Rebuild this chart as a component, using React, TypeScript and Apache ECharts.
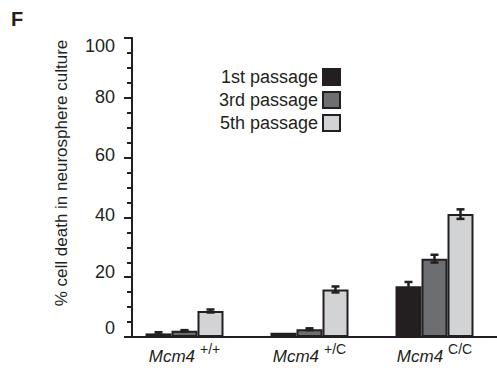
import React, { useEffect, useRef } from "react";
import * as echarts from "echarts";

const categories = ["Mcm4|+/+", "Mcm4|+/C", "Mcm4|C/C"];
const seriesNames = ["1st passage", "3rd passage", "5th passage"];
const firstPassage = [1.2, 1.4, 17.0];
const thirdPassage = [2.1, 2.6, 26.2];
const fifthPassage = [8.7, 15.9, 41.1];
const firstErr = [0.4, 0, 1.4];
const thirdErr = [0.2, 0.3, 1.3];
const fifthErr = [0.5, 1.0, 1.6];
const yTicks = [0, 20, 40, 60, 80, 100];

const FONT = "'Liberation Sans', Arial, Helvetica, sans-serif";
const INK = "#231f20";
const colors = ["#231f20", "#6d6e71", "#d1d3d4"];
const BAR_W = 26;
// vertical nudges of the tick labels as printed in the original figure (px, + = down)
const labelShift: Record<number, number> = { 0: -9, 20: -5, 40: -2, 60: -3, 80: -1, 100: 8 };

export default function App() {
  const ref = useRef<HTMLDivElement>(null);
  useEffect(() => {
    if (!ref.current) return;
    const chart = echarts.init(ref.current, undefined, { renderer: "svg" });
    const values = [firstPassage, thirdPassage, fifthPassage];
    const errs = [firstErr, thirdErr, fifthErr];
    const errData: number[][] = [];
    values.forEach((vals, s) =>
      vals.forEach((v, c) => {
        if (errs[s][c] > 0) errData.push([c, s, v, errs[s][c]]);
      })
    );
    const yRich: Record<string, any> = {};
    yTicks.forEach((t) => {
      const d = labelShift[t] || 0;
      yRich["t" + t] = {
        fontFamily: FONT,
        fontSize: 18,
        color: INK,
        padding: d >= 0 ? [2 * d, 0, 0, 0] : [0, 0, -2 * d, 0],
      };
    });
    chart.setOption({
      animation: false,
      textStyle: { fontFamily: FONT, color: INK },
      title: {
        text: "F",
        left: 11,
        top: 9,
        padding: 0,
        textStyle: { fontFamily: FONT, fontSize: 20, fontWeight: "bold", color: INK },
      },
      legend: {
        data: seriesNames,
        orient: "vertical",
        align: "right",
        right: 151,
        top: 63,
        padding: 5,
        itemWidth: 17,
        itemHeight: 16,
        itemGap: 5,
        icon: "rect",
        textStyle: { fontFamily: FONT, fontSize: 18, color: INK },
      },
      grid: [
        { left: 122, width: 389, top: 38, bottom: 34 },
        { left: 132, right: 0, top: 38, bottom: 34 },
      ],
      xAxis: [
        {
          type: "category",
          gridIndex: 0,
          data: categories,
          axisLine: { show: false },
          axisTick: { show: false },
          axisLabel: {
            margin: 8,
            formatter: (v: string) => {
              const [a, b] = v.split("|");
              return `{m|${a}}{s|${b}}`;
            },
            rich: {
              m: { fontFamily: FONT, fontSize: 17, fontStyle: "italic", color: INK, lineHeight: 20, verticalAlign: "bottom" },
              s: { fontFamily: FONT, fontSize: 14, color: INK, lineHeight: 14, padding: [0, 0, 9, 5], verticalAlign: "bottom" },
            },
          },
        },
        {
          type: "value",
          gridIndex: 1,
          min: 0,
          max: 1,
          axisLine: { show: true, lineStyle: { color: INK, width: 2 } },
          axisTick: { show: false },
          axisLabel: { show: false },
          splitLine: { show: false },
        },
      ],
      yAxis: [
        {
          type: "value",
          gridIndex: 0,
          min: 0,
          max: 100,
          show: false,
        },
        {
          type: "value",
          gridIndex: 1,
          min: 0,
          max: 100,
          interval: 20,
          axisLine: { show: true, lineStyle: { color: INK, width: 2 } },
          axisTick: { show: true, length: 8, lineStyle: { color: INK, width: 2 } },
          minorTick: { show: true, splitNumber: 4, length: 5, lineStyle: { color: INK, width: 2 } },
          splitLine: { show: false },
          axisLabel: {
            margin: 17,
            fontFamily: FONT,
            fontSize: 18,
            color: INK,
            formatter: (v: number) => (yTicks.includes(v) ? `{t${v}|${v}}` : ""),
            rich: yRich,
          },
        },
      ],
      graphic: [
        {
          type: "text",
          x: 61,
          y: 173,
          rotation: Math.PI / 2,
          style: {
            text: "% cell death in neurosphere culture",
            fontFamily: FONT,
            fontSize: 17,
            fill: INK,
            align: "center",
            verticalAlign: "middle",
          },
        },
      ],
      series: [
        ...seriesNames.map((name, s) => ({
          name,
          type: "bar",
          xAxisIndex: 0,
          yAxisIndex: 0,
          barWidth: BAR_W,
          barGap: "0%",
          data: values[s],
          itemStyle: { color: colors[s], borderColor: INK, borderWidth: 2 },
        })),
        {
          type: "custom",
          xAxisIndex: 0,
          yAxisIndex: 0,
          z: 10,
          data: errData,
          renderItem: (_p: any, api: any) => {
            const c = api.value(0);
            const s = api.value(1);
            const v = api.value(2);
            const e = api.value(3);
            const top = api.coord([c, v + e]);
            const bot = api.coord([c, v - e]);
            const x = top[0] + (s - 1) * BAR_W;
            const st = { stroke: INK, lineWidth: 2.5 };
            return {
              type: "group",
              children: [
                { type: "line", shape: { x1: x, y1: top[1], x2: x, y2: bot[1] }, style: st },
                { type: "line", shape: { x1: x - 4, y1: top[1], x2: x + 4, y2: top[1] }, style: st },
                { type: "line", shape: { x1: x - 4, y1: bot[1], x2: x + 4, y2: bot[1] }, style: st },
              ],
            };
          },
        },
      ],
    });
    return () => chart.dispose();
  }, []);
  return (
    <div
      ref={ref}
      style={{ position: "fixed", left: 0, top: 0, width: 497, height: 371, background: "#fff" }}
    />
  );
}
